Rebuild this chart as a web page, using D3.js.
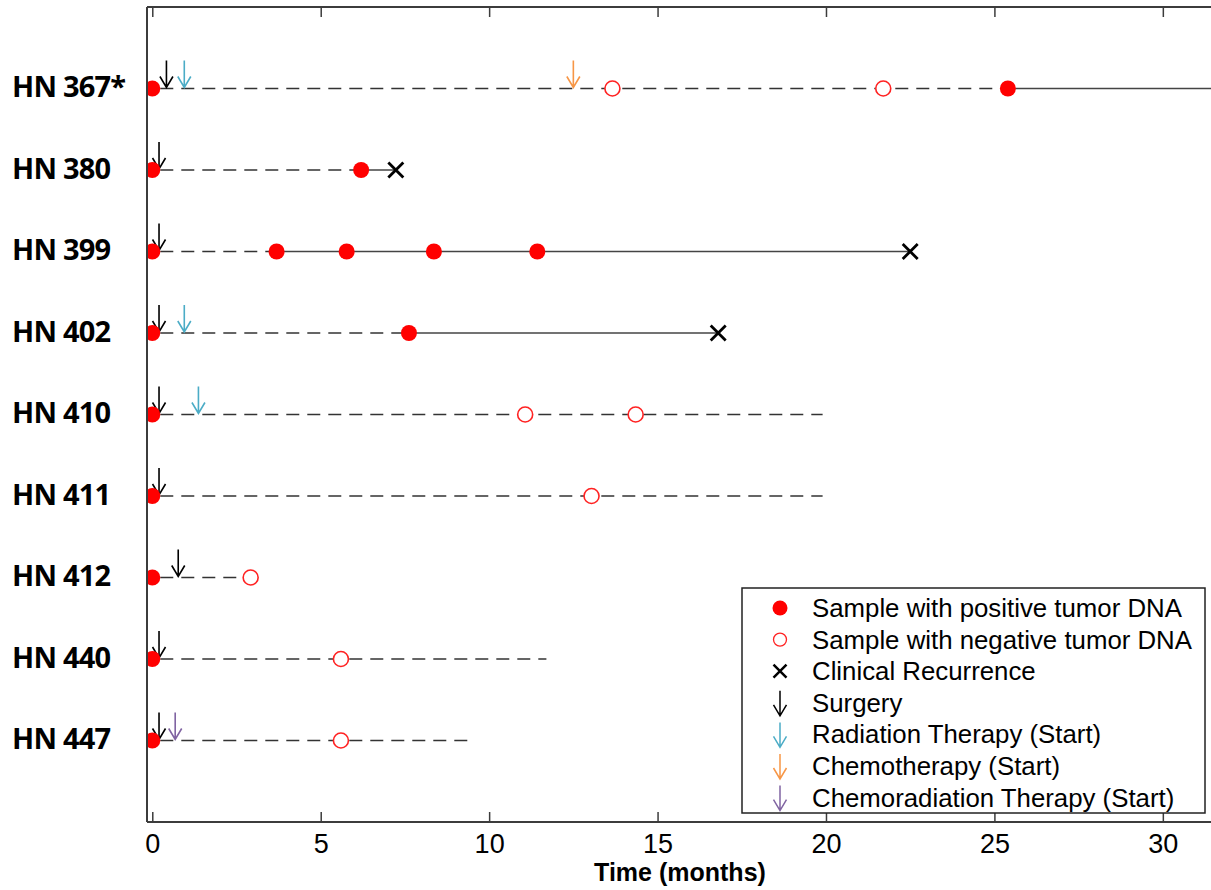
<!DOCTYPE html>
<html>
<head>
<meta charset="utf-8">
<script src="https://cdn.jsdelivr.net/npm/d3@7"></script>
<style>
  body { margin: 0; background: #fff; }
  svg { display: block; }
</style>
</head>
<body>
<svg id="chart"></svg>
<script>
// patients, top to bottom
const patients = ["HN 367*", "HN 380", "HN 399", "HN 402", "HN 410", "HN 411", "HN 412", "HN 440", "HN 447"];

// samples (months)
const positive = [[0, 25.4], [0, 6.2], [0, 3.69, 5.77, 8.36, 11.43], [0, 7.62], [0], [0], [0], [0], [0]];
const negative = [[13.66, 21.7], [], [], [], [11.07, 14.35], [13.04], [2.92], [5.6], [5.6]];
const recurrence = [null, 7.23, 22.5, 16.8, null, null, null, null, null];

// treatments (months)
const surgery = [0.42, 0.2, 0.2, 0.2, 0.2, 0.2, 0.77, 0.2, 0.2];
const radiation = [0.95, null, null, 0.95, 1.37, null, null, null, null];
const chemo = [12.5, null, null, null, null, null, null, null, null];
const chemorad = [null, null, null, null, null, null, null, null, 0.68];

// follow-up: dashed until first positive after baseline, solid after
const solidFrom = [25.4, 6.2, 3.69, 7.62, null, null, null, null, null];
const followEnd = [33, 7.23, 22.5, 16.8, 19.9, 19.9, 2.92, 11.7, 9.52];

const xTicks = [0, 5, 10, 15, 20, 25, 30];

const W = 1211, H = 890;
const plotL = 147, plotR = 1211, plotT = 7, plotB = 822;

const svg = d3.select("#chart").attr("width", W).attr("height", H);

const x = d3.scaleLinear().domain([-0.157, 31.43]).range([plotL, plotR]);
const y = d3.scaleLinear().domain([0, patients.length + 1]).range([plotT, plotB]);

const colors = { surgery: "#000", radiation: "#4bacc6", chemo: "#f79646", chemorad: "#8064a2" };

svg.append("defs").append("clipPath").attr("id", "clip")
  .append("rect").attr("x", plotL).attr("y", plotT).attr("width", plotR - plotL).attr("height", plotB - plotT);

const plot = svg.append("g").attr("clip-path", "url(#clip)");

// axes frame
const axisColor = "#3c3c3c";
svg.append("line").attr("x1", plotL).attr("x2", plotR).attr("y1", plotB).attr("y2", plotB)
  .attr("stroke", axisColor).attr("stroke-width", 2);
svg.append("line").attr("x1", plotL).attr("x2", plotR).attr("y1", plotT).attr("y2", plotT)
  .attr("stroke", axisColor).attr("stroke-width", 2);
svg.append("line").attr("x1", plotL).attr("x2", plotL).attr("y1", plotT).attr("y2", plotB)
  .attr("stroke", axisColor).attr("stroke-width", 2);

// bottom ticks (inward) and labels
const bottomAxis = svg.append("g").attr("transform", "translate(0," + plotB + ")")
  .call(d3.axisBottom(x).tickValues(xTicks).tickSizeInner(-10).tickSizeOuter(0).tickPadding(12));
bottomAxis.select(".domain").remove();
bottomAxis.selectAll(".tick line").attr("stroke", axisColor).attr("stroke-width", 1.5);
bottomAxis.selectAll(".tick text")
  .attr("font-family", "Liberation Sans, Arial, sans-serif")
  .attr("font-size", 27).attr("fill", "#000");

// top ticks
const topAxis = svg.append("g").attr("transform", "translate(0," + plotT + ")")
  .call(d3.axisTop(x).tickValues(xTicks).tickSizeInner(-10).tickSizeOuter(0).tickFormat(""));
topAxis.select(".domain").remove();
topAxis.selectAll(".tick line").attr("stroke", axisColor).attr("stroke-width", 1.5);

svg.append("text")
  .attr("x", 680).attr("y", 881)
  .attr("text-anchor", "middle")
  .attr("font-family", "Liberation Sans, Arial, sans-serif")
  .attr("font-weight", "bold").attr("font-size", 25)
  .text("Time (months)");

// patient labels
svg.selectAll(".plabel")
  .data(patients)
  .enter().append("text")
  .attr("class", "plabel")
  .attr("x", 12)
  .attr("y", (d, i) => y(i + 1) + 8.5)
  .attr("font-family", "Open Sans, sans-serif")
  .attr("font-weight", "bold").attr("font-size", 29)
  .attr("letter-spacing", -0.8)
  .attr("fill", "#000")
  .text(d => d);

// follow-up lines
patients.forEach((p, i) => {
  const yy = y(i + 1);
  const dashEnd = solidFrom[i] != null ? solidFrom[i] : followEnd[i];
  plot.append("line")
    .attr("x1", x(0)).attr("x2", x(dashEnd))
    .attr("y1", yy).attr("y2", yy)
    .attr("stroke", "#333").attr("stroke-width", 1.6)
    .attr("stroke-dasharray", "13,8").attr("stroke-dashoffset", -8);
  if (solidFrom[i] != null) {
    plot.append("line")
      .attr("x1", x(solidFrom[i])).attr("x2", x(followEnd[i]))
      .attr("y1", yy).attr("y2", yy)
      .attr("stroke", "#444").attr("stroke-width", 1.6);
  }
});

function arrowPath(cx, tipY, len) {
  return "M" + cx + "," + (tipY - len) + "L" + cx + "," + tipY +
    "M" + (cx - 6.5) + "," + (tipY - 11) + "L" + cx + "," + tipY + "L" + (cx + 6.5) + "," + (tipY - 11);
}

function drawArrows(values, color) {
  values.forEach((v, i) => {
    if (v == null) return;
    plot.append("path")
      .attr("d", arrowPath(x(v), y(i + 1) - 1, 27))
      .attr("fill", "none").attr("stroke", color).attr("stroke-width", 1.6);
  });
}

drawArrows(surgery, colors.surgery);
drawArrows(radiation, colors.radiation);
drawArrows(chemo, colors.chemo);
drawArrows(chemorad, colors.chemorad);

// negative samples
negative.forEach((vals, i) => {
  plot.selectAll(null).data(vals).enter().append("circle")
    .attr("cx", d => x(d)).attr("cy", y(i + 1)).attr("r", 7.5)
    .attr("fill", "#fff").attr("stroke", "#f22").attr("stroke-width", 1.6);
});

// positive samples
positive.forEach((vals, i) => {
  plot.selectAll(null).data(vals).enter().append("circle")
    .attr("cx", d => x(d)).attr("cy", y(i + 1)).attr("r", 8)
    .attr("fill", "#ff0000");
});

// recurrences
function crossPath(cx, cy, s) {
  return "M" + (cx - s) + "," + (cy - s) + "L" + (cx + s) + "," + (cy + s) +
    "M" + (cx - s) + "," + (cy + s) + "L" + (cx + s) + "," + (cy - s);
}
recurrence.forEach((v, i) => {
  if (v == null) return;
  plot.append("path")
    .attr("d", crossPath(x(v), y(i + 1), 7.5))
    .attr("stroke", "#000").attr("stroke-width", 2.8).attr("fill", "none");
});

// legend
const legendItems = [
  { label: "Sample with positive tumor DNA", kind: "pos" },
  { label: "Sample with negative tumor DNA", kind: "neg" },
  { label: "Clinical Recurrence", kind: "x" },
  { label: "Surgery", kind: "arrow", color: colors.surgery },
  { label: "Radiation Therapy (Start)", kind: "arrow", color: colors.radiation },
  { label: "Chemotherapy (Start)", kind: "arrow", color: colors.chemo },
  { label: "Chemoradiation Therapy (Start)", kind: "arrow", color: colors.chemorad }
];

const lg = svg.append("g");
lg.append("rect")
  .attr("x", 742).attr("y", 588).attr("width", 463).attr("height", 225)
  .attr("fill", "#fff").attr("stroke", "#222").attr("stroke-width", 1.5);

legendItems.forEach((it, k) => {
  const ry = 608 + k * 31.6;
  const mx = 780;
  if (it.kind === "pos") {
    lg.append("circle").attr("cx", mx).attr("cy", ry).attr("r", 7.5).attr("fill", "#ff0000");
  } else if (it.kind === "neg") {
    lg.append("circle").attr("cx", mx).attr("cy", ry).attr("r", 6.5)
      .attr("fill", "#fff").attr("stroke", "#f22").attr("stroke-width", 1.3);
  } else if (it.kind === "x") {
    lg.append("path").attr("d", crossPath(mx, ry, 6.5))
      .attr("stroke", "#000").attr("stroke-width", 2.5).attr("fill", "none");
  } else {
    lg.append("path").attr("d", arrowPath(mx, ry + 13, 25))
      .attr("fill", "none").attr("stroke", it.color).attr("stroke-width", 1.5);
  }
  lg.append("text")
    .attr("x", 812).attr("y", ry + 9)
    .attr("font-family", "Liberation Sans, Arial, sans-serif")
    .attr("font-size", 25.8).attr("fill", "#000")
    .text(it.label);
});
</script>
</body>
</html>
